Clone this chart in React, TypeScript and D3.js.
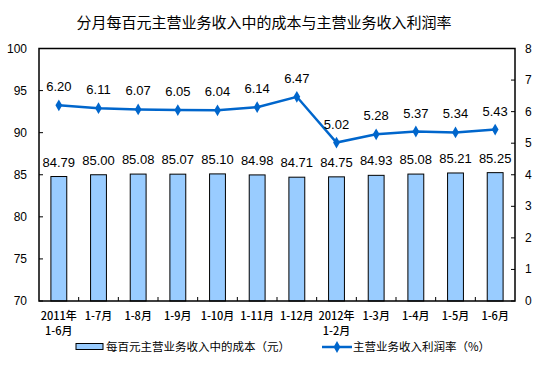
import { useRef, useEffect } from "react";
import * as d3 from "d3";

const categories = [
  "2011年\n1-6月",
  "1-7月",
  "1-8月",
  "1-9月",
  "1-10月",
  "1-11月",
  "1-12月",
  "2012年\n1-2月",
  "1-3月",
  "1-4月",
  "1-5月",
  "1-6月",
];
const costValues = [84.79, 85.0, 85.08, 85.07, 85.1, 84.98, 84.71, 84.75, 84.93, 85.08, 85.21, 85.25];
const marginValues = [6.2, 6.11, 6.07, 6.05, 6.04, 6.14, 6.47, 5.02, 5.28, 5.37, 5.34, 5.43];
const leftTicks = [70, 75, 80, 85, 90, 95, 100];
const rightTicks = [0, 1, 2, 3, 4, 5, 6, 7, 8];

const title = "分月每百元主营业务收入中的成本与主营业务收入利润率";
const barLegend = "每百元主营业务收入中的成本（元）";
const lineLegend = "主营业务收入利润率（%）";

const W = 554;
const H = 371;
const CJK = "'Noto Sans CJK SC', sans-serif";
const NUM = "'Liberation Sans', Arial, sans-serif";

export default function App() {
  const svgRef = useRef<SVGSVGElement>(null);

  useEffect(() => {
    if (!svgRef.current) return;
    const svg = d3.select(svgRef.current);
    svg.selectAll("*").remove();

    const left = 39;
    const right = 515;
    const top = 48.5;
    const bottom = 301;

    const x = d3.scaleBand<string>().domain(categories).range([left, right]);
    const yL = d3.scaleLinear().domain([70, 100]).range([bottom, top]);
    const yR = d3.scaleLinear().domain([0, 8]).range([bottom, top]);

    svg.append("rect").attr("width", W).attr("height", H).attr("fill", "#fff");

    // Title
    svg
      .append("text")
      .attr("x", 264)
      .attr("y", 28)
      .attr("text-anchor", "middle")
      .attr("font-family", CJK)
      .attr("font-size", 15)
      .attr("fill", "#000")
      .text(title);

    // Bars
    const bw = x.bandwidth() * 0.4;
    categories.forEach((c, i) => {
      const cx = x(c)! + x.bandwidth() / 2;
      svg
        .append("rect")
        .attr("x", cx - bw / 2)
        .attr("y", yL(costValues[i]))
        .attr("width", bw)
        .attr("height", bottom - yL(costValues[i]))
        .attr("fill", "#99CCFF")
        .attr("stroke", "#000")
        .attr("stroke-width", 1);
      svg
        .append("text")
        .attr("x", cx)
        .attr("y", yL(costValues[i]) - 10)
        .attr("text-anchor", "middle")
        .attr("font-family", NUM)
        .attr("font-size", 13)
        .attr("fill", "#000")
        .text(costValues[i].toFixed(2));
    });

    // Plot frame
    svg
      .append("rect")
      .attr("x", left)
      .attr("y", top)
      .attr("width", right - left)
      .attr("height", bottom - top)
      .attr("fill", "none")
      .attr("stroke", "#000")
      .attr("stroke-width", 1.5);

    // Ticks
    leftTicks.forEach((t) => {
      svg
        .append("line")
        .attr("x1", left)
        .attr("x2", left + 4)
        .attr("y1", yL(t))
        .attr("y2", yL(t))
        .attr("stroke", "#000");
      svg
        .append("text")
        .attr("x", left - 12)
        .attr("y", yL(t) + 4)
        .attr("text-anchor", "end")
        .attr("font-family", NUM)
        .attr("font-size", 12)
        .attr("fill", "#000")
        .text(t);
    });
    rightTicks.forEach((t) => {
      svg
        .append("line")
        .attr("x1", right - 4)
        .attr("x2", right)
        .attr("y1", yR(t))
        .attr("y2", yR(t))
        .attr("stroke", "#000");
      svg
        .append("text")
        .attr("x", right + 10)
        .attr("y", yR(t) + 4)
        .attr("text-anchor", "start")
        .attr("font-family", NUM)
        .attr("font-size", 12)
        .attr("fill", "#000")
        .text(t);
    });
    categories.slice(1).forEach((c) => {
      svg
        .append("line")
        .attr("x1", x(c)!)
        .attr("x2", x(c)!)
        .attr("y1", bottom)
        .attr("y2", bottom - 4)
        .attr("stroke", "#000");
    });

    // Category labels
    categories.forEach((c) => {
      const cx = x(c)! + x.bandwidth() / 2;
      c.split("\n").forEach((line, j) => {
        svg
          .append("text")
          .attr("x", cx)
          .attr("y", 320 + j * 15)
          .attr("text-anchor", "middle")
          .attr("font-family", CJK)
          .attr("font-size", 11)
          .attr("font-weight", 500)
          .attr("fill", "#000")
          .text(line);
      });
    });

    // Line
    const line = d3
      .line<number>()
      .x((_, i) => x(categories[i])! + x.bandwidth() / 2)
      .y((d) => yR(d));
    svg
      .append("path")
      .attr("d", line(marginValues)!)
      .attr("fill", "none")
      .attr("stroke", "#0066CC")
      .attr("stroke-width", 2.5);

    const diamond = d3.symbol().type(d3.symbolDiamond).size(40);
    marginValues.forEach((v, i) => {
      const cx = x(categories[i])! + x.bandwidth() / 2;
      svg
        .append("path")
        .attr("d", diamond()!)
        .attr("transform", `translate(${cx},${yR(v)})`)
        .attr("fill", "#0066CC");
      svg
        .append("text")
        .attr("x", cx)
        .attr("y", yR(v) - 14)
        .attr("text-anchor", "middle")
        .attr("font-family", NUM)
        .attr("font-size", 13)
        .attr("fill", "#000")
        .text(v.toFixed(2));
    });

    // Legend
    svg
      .append("rect")
      .attr("x", 76)
      .attr("y", 343.5)
      .attr("width", 27)
      .attr("height", 6)
      .attr("fill", "#99CCFF")
      .attr("stroke", "#000")
      .attr("stroke-width", 1);
    svg
      .append("text")
      .attr("x", 106)
      .attr("y", 351)
      .attr("font-family", CJK)
      .attr("font-size", 11.5)
      .attr("fill", "#000")
      .text(barLegend);
    svg
      .append("line")
      .attr("x1", 322)
      .attr("x2", 352)
      .attr("y1", 347)
      .attr("y2", 347)
      .attr("stroke", "#0066CC")
      .attr("stroke-width", 2.5);
    svg
      .append("path")
      .attr("d", diamond()!)
      .attr("transform", "translate(337,347)")
      .attr("fill", "#0066CC");
    svg
      .append("text")
      .attr("x", 353)
      .attr("y", 351)
      .attr("font-family", CJK)
      .attr("font-size", 11.5)
      .attr("fill", "#000")
      .text(lineLegend);
  }, []);

  return (
    <svg
      ref={svgRef}
      width={W}
      height={H}
      style={{ position: "absolute", left: 0, top: 0, display: "block" }}
    />
  );
}
